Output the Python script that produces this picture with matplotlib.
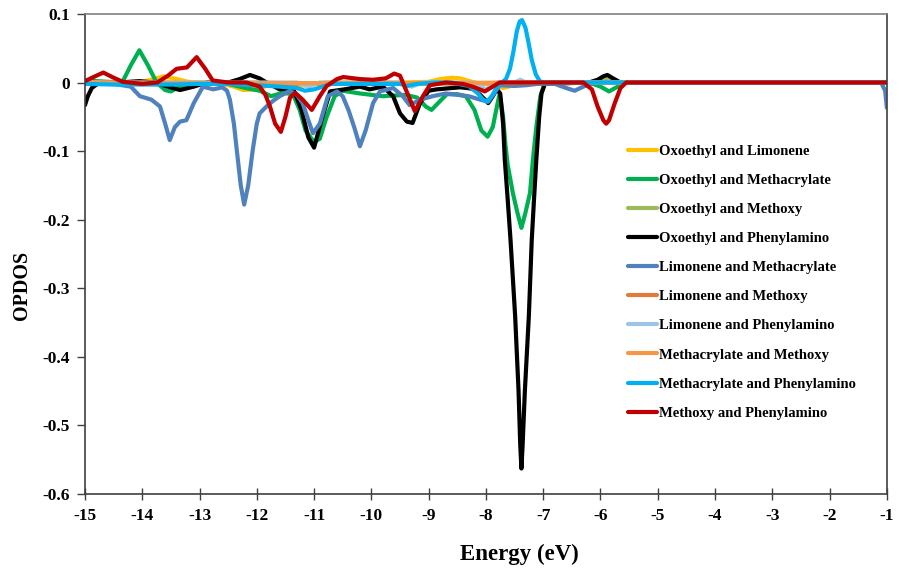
import matplotlib
matplotlib.use("Agg")
import matplotlib.pyplot as plt

plt.rcParams['font.family'] = ['Liberation Serif', 'DejaVu Serif']
plt.rcParams['font.weight'] = 'bold'

# ---- data (energy in eV, OPDOS) ----
ox_lim_x = [-15, -14.5, -14.0, -13.8, -13.63, -13.45, -13.2, -12.6, -12.4, -12.24, -12.0, -11.8, -11.5,
            -11.3, -11.1, -10.8, -9.5, -9.0, -8.8, -8.6, -8.45, -8.2, -7.9, -7.7, -7.6, -7.45, -7.2,
            -6.05, -5.9, -5.75, -1]
ox_lim_y = [0, 0, 0.001, 0.005, 0.009, 0.006, 0.001, -0.002, -0.006, -0.011, -0.01, -0.004, -0.003,
            -0.005, -0.004, 0, 0, 0.001, 0.005, 0.007, 0.006, 0, -0.003, -0.008, -0.006, -0.002, 0,
            0, 0.004, 0, 0]

ox_meth_x = [-15, -14.6, -14.35, -14.2, -14.05, -13.9, -13.75, -13.6, -13.5, -13.35, -13.1, -12.8, -12.5,
             -12.2, -11.95, -11.75, -11.55, -11.37, -11.25, -11.15, -11.0, -10.9, -10.78, -10.64, -10.5,
             -10.2, -9.8, -9.4, -9.2, -9.05, -8.95, -8.8, -8.68, -8.5, -8.35, -8.2, -8.08, -7.97, -7.88,
             -7.82, -7.76, -7.7, -7.66, -7.62, -7.53, -7.45, -7.38, -7.31, -7.23, -7.18, -7.12, -7.05,
             -6.98, -6.9, -6.2, -6.0, -5.85, -5.7, -5.55, -1]
ox_meth_y = [0.003, 0.001, 0.0, 0.025, 0.047, 0.025, 0.0, -0.011, -0.013, -0.006, -0.002, 0.0, -0.002,
             -0.008, -0.012, -0.02, -0.015, -0.017, -0.04, -0.07, -0.087, -0.082, -0.05, -0.02, -0.012,
             -0.016, -0.02, -0.018, -0.022, -0.035, -0.04, -0.027, -0.017, -0.017, -0.02, -0.04, -0.07,
             -0.079, -0.065, -0.04, -0.016, -0.05, -0.09, -0.12, -0.161, -0.19, -0.212, -0.19, -0.161,
             -0.113, -0.065, -0.02, -0.003, 0, 0, -0.006, -0.013, -0.006, 0, 0]

ox_methoxy_x = [-15, -12, -11, -9, -8, -6.1, -5.9, -5.7, -1]
ox_methoxy_y = [0, 0, -0.002, -0.002, -0.001, 0, 0.005, 0, 0]

ox_phen_x = [-15, -14.95, -14.88, -14.8, -14.7, -14.4, -14.05, -13.8, -13.55, -13.34, -13.1, -12.87,
             -12.5, -12.3, -12.12, -11.95, -11.83, -11.6, -11.37, -11.22, -11.1, -11.0, -10.87, -10.72,
             -10.47, -10.2, -10.03, -9.8, -9.62, -9.5, -9.38, -9.28, -9.15, -9.0, -8.86, -8.45, -8.23,
             -8.1, -7.96, -7.88, -7.81, -7.75, -7.7, -7.67, -7.62, -7.57, -7.49, -7.43, -7.40, -7.38,
             -7.36, -7.32, -7.25, -7.2, -7.16, -7.12, -7.07, -7.03, -6.97, -6.2, -6.05, -5.95, -5.88,
             -5.78, -5.65, -1]
ox_phen_y = [-0.033, -0.02, -0.008, -0.003, 0.0, 0.0, 0.002, 0.0, -0.006, -0.011, -0.006, 0.0,
             0.0, 0.005, 0.011, 0.006, 0.0, -0.01, -0.008, -0.04, -0.08, -0.095, -0.055, -0.013,
             -0.01, -0.006, -0.01, -0.006, -0.02, -0.045, -0.057, -0.059, -0.03, -0.012, -0.01, -0.007,
             -0.009, -0.018, -0.03, -0.02, -0.01, -0.016, -0.06, -0.113, -0.17, -0.23, -0.34, -0.45,
             -0.53, -0.563, -0.53, -0.45, -0.34, -0.23, -0.17, -0.113, -0.05, -0.016, -0.002, 0, 0.004,
             0.009, 0.011, 0.006, 0, 0]

lim_meth_x = [-15, -14.5, -14.2, -14.04, -13.84, -13.69, -13.6, -13.52, -13.43, -13.34, -13.23, -13.1,
              -12.94, -12.76, -12.6, -12.52, -12.47, -12.4, -12.35, -12.28, -12.22, -12.15, -12.07,
              -12.0, -11.95, -11.83, -11.72, -11.6, -11.42, -11.3, -11.2, -11.1, -11.02, -10.9, -10.76,
              -10.6, -10.5, -10.4, -10.3, -10.2, -10.1, -9.97, -9.85, -9.62, -9.45, -9.33, -9.15, -8.93,
              -8.7, -8.5, -8.3, -8.1, -7.96, -7.85, -7.76, -7.5, -7.3, -7.1, -6.8, -6.6, -6.45, -6.3,
              -6.1, -1.1, -1.03, -1.0]
lim_meth_y = [-0.001, -0.002, -0.006, -0.02, -0.025, -0.035, -0.06, -0.084, -0.065, -0.057, -0.055, -0.03,
              -0.006, -0.01, -0.007, -0.012, -0.025, -0.06, -0.098, -0.15, -0.178, -0.15, -0.098,
              -0.06, -0.045, -0.035, -0.027, -0.02, -0.012, -0.018, -0.03, -0.055, -0.074, -0.06, -0.02,
              -0.013, -0.02, -0.04, -0.065, -0.093, -0.07, -0.03, -0.013, -0.008, -0.02, -0.033, -0.025,
              -0.02, -0.016, -0.018, -0.02, -0.025, -0.028, -0.015, -0.004, -0.005, -0.004, -0.002,
              -0.002, -0.008, -0.012, -0.006, 0.0, 0.0, -0.012, -0.037]

lim_methoxy_x = [-15, -13.5, -12, -10, -8.5, -7, -1]
lim_methoxy_y = [0, -0.001, -0.002, -0.001, -0.001, 0, 0]

lim_phen_x = [-15, -11.3, -11.1, -10.9, -9.5, -9.3, -9.1, -8.2, -8.0, -7.8, -7.5, -7.4, -7.3, -1]
lim_phen_y = [0, 0, -0.006, 0, 0, -0.006, 0, 0, -0.01, 0, 0, 0.004, 0, 0]

meth_methoxy_x = [-15, -13, -11, -9, -7, -1]
meth_methoxy_y = [0, -0.001, -0.001, -0.001, 0, 0]

meth_phen_x = [-15, -14.5, -14.0, -13.5, -13.0, -12.5, -12.0, -11.6, -11.3, -11.16, -11.0, -10.7, -10.0,
               -9.5, -9.38, -9.2, -8.9, -8.6, -8.3, -8.15, -8.05, -7.98, -7.9, -7.8, -7.72, -7.65, -7.58,
               -7.52, -7.46, -7.41, -7.37, -7.31, -7.26, -7.2, -7.13, -7.06, -7.0, -1]
meth_phen_y = [-0.002, -0.003, -0.003, -0.003, -0.002, -0.002, -0.004, -0.006, -0.008, -0.012, -0.01,
               -0.002, -0.002, -0.002, -0.005, -0.002, 0, 0, -0.005, -0.015, -0.025, -0.028, -0.02,
               -0.006, 0, 0.005, 0.02, 0.045, 0.075, 0.089, 0.091, 0.08, 0.06, 0.033, 0.012, 0.002, 0, 0]

methoxy_phen_x = [-15, -14.85, -14.68, -14.5, -14.34, -14.0, -13.74, -13.55, -13.4, -13.22, -13.05, -12.9,
                  -12.77, -12.5, -12.18, -11.95, -11.85, -11.77, -11.68, -11.58, -11.5, -11.42, -11.33,
                  -11.2, -11.04, -10.9, -10.78, -10.6, -10.49, -10.2, -9.97, -9.75, -9.6, -9.5, -9.4,
                  -9.24, -9.1, -8.98, -8.7, -8.4, -8.2, -8.02, -7.88, -7.76, -6.3, -6.15, -6.05, -5.95,
                  -5.9, -5.85, -5.75, -5.65, -5.55, -1]
methoxy_phen_y = [0.002, 0.008, 0.0145, 0.007, 0.001, -0.002, 0.0, 0.01, 0.02, 0.022, 0.037, 0.02,
                  0.003, 0.0, 0.0, -0.006, -0.018, -0.035, -0.06, -0.072, -0.05, -0.022, -0.015,
                  -0.025, -0.04, -0.02, -0.005, 0.005, 0.008, 0.005, 0.004, 0.006, 0.013, 0.01, -0.01,
                  -0.042, -0.02, -0.004, 0.0, -0.002, -0.007, -0.013, -0.006, 0.0, 0.0, -0.01, -0.035,
                  -0.055, -0.06, -0.055, -0.03, -0.008, 0.0, 0.0]

series = [
    ("Oxoethyl and Limonene", ox_lim_x, ox_lim_y, "#FFC000"),
    ("Oxoethyl and Methacrylate", ox_meth_x, ox_meth_y, "#00B050"),
    ("Oxoethyl and Methoxy", ox_methoxy_x, ox_methoxy_y, "#9BBB59"),
    ("Oxoethyl and Phenylamino", ox_phen_x, ox_phen_y, "#000000"),
    ("Limonene and Methacrylate", lim_meth_x, lim_meth_y, "#4F81BD"),
    ("Limonene and Methoxy", lim_methoxy_x, lim_methoxy_y, "#E07B39"),
    ("Limonene and Phenylamino", lim_phen_x, lim_phen_y, "#9DC3E6"),
    ("Methacrylate and Methoxy", meth_methoxy_x, meth_methoxy_y, "#F79646"),
    ("Methacrylate and Phenylamino", meth_phen_x, meth_phen_y, "#00B0F0"),
    ("Methoxy and Phenylamino", methoxy_phen_x, methoxy_phen_y, "#C00000"),
]

x_ticks = list(range(-15, 0))
y_ticks = [-0.6, -0.5, -0.4, -0.3, -0.2, -0.1, 0, 0.1]
y_tick_labels = ["-0.6", "-0.5", "-0.4", "-0.3", "-0.2", "-0.1", "0", "0.1"]

fig = plt.figure(figsize=(8.99, 5.69), dpi=100)
ax = fig.add_axes([0.0945, 0.132, 0.892, 0.8435])

for name, xs, ys, col in series:
    ax.plot(xs, ys, color=col, lw=3, label=name, solid_joinstyle='round', solid_capstyle='round')

ax.set_xlim(-15, -1)
ax.set_ylim(-0.6, 0.1)
ax.set_xticks(x_ticks)
ax.set_xticklabels([str(t) for t in x_ticks])
ax.set_yticks(y_ticks)
ax.set_yticklabels(y_tick_labels)
ax.tick_params(axis='x', direction='inout', length=8, width=1, labelsize=12.5, pad=6, colors='#404040',
               labelcolor='black')
ax.tick_params(axis='y', direction='out', length=6, width=1, labelsize=12.5, pad=5, colors='#404040',
               labelcolor='black')
for s in ['left', 'bottom', 'right']:
    ax.spines[s].set_color('#404040')
    ax.spines[s].set_linewidth(1.2)
ax.spines['top'].set_color('#808080')
ax.spines['top'].set_linewidth(1.2)

ax.set_xlabel('Energy (eV)', fontsize=16.5, fontweight='bold')
ax.xaxis.set_label_coords(0.542, -0.104)
ax.set_ylabel('OPDOS', fontsize=14.5, fontweight='bold')
ax.yaxis.set_label_coords(-0.066, 0.435)

leg = ax.legend(loc='upper left', bbox_to_anchor=(0.668, 0.743), frameon=False, fontsize=10.5,
                handlelength=2.0, handletextpad=0.1, labelspacing=1.09, borderpad=0)

fig.savefig('out.png', dpi=100)
